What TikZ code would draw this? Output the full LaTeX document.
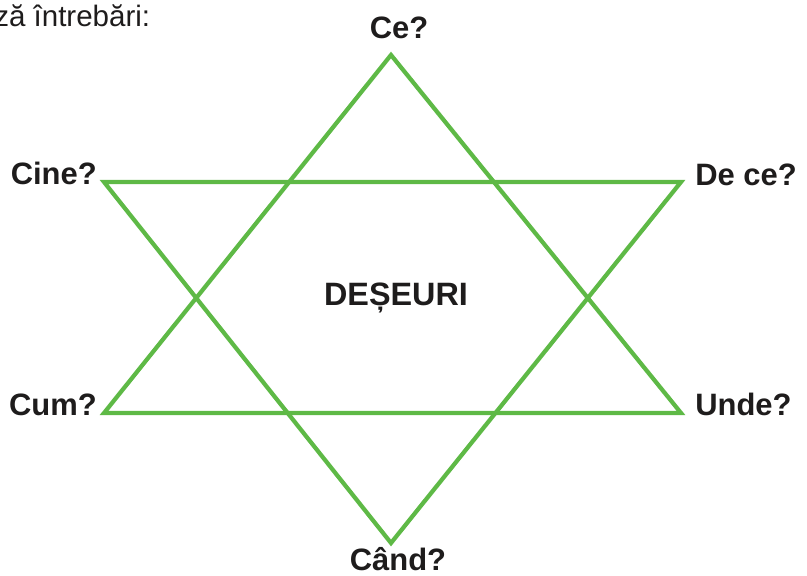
\documentclass[tikz,border=0pt]{standalone}
\usepackage{fontspec}
\setmainfont{Liberation Sans}
\usepackage{tikz}
\usetikzlibrary{positioning}
\definecolor{stargreen}{RGB}{94,185,70}
\definecolor{inkblack}{RGB}{30,28,28}

\begin{document}
\begin{tikzpicture}[
    x=0.025cm, y=-0.025cm,
    side/.style={draw=stargreen, line width=3pt, line join=miter},
    lbl/.style={font=\fontsize{22}{25}\selectfont\bfseries, text=inkblack, inner sep=0pt},
    topic/.style={font=\fontsize{23}{26}\selectfont\bfseries, text=inkblack, inner sep=0pt},
    intro/.style={font=\fontsize{21}{24}\selectfont, text=inkblack, inner sep=0pt},
]
\useasboundingbox (0,0) rectangle (807,576);
\clip (0,0) rectangle (807,576);

% ---- star corners ----
\coordinate (ce) at (391,55);
\coordinate (cum) at (104,413);
\coordinate (unde) at (681,413);
\coordinate (cine) at (104,182);
\coordinate (dece) at (681,182);
\coordinate (cand) at (391,543);

% ---- two triangles ----
\draw[side] (ce) -- (unde) -- (cum) -- cycle;
\draw[side] (cine) -- (dece) -- (cand) -- cycle;

% ---- questions ----
\node[lbl, anchor=base] (lce) at (399,39) {Ce?};
\node[lbl, anchor=base east] (lcine) at (97,185) {Cine?};
\node[lbl, anchor=base west] (ldece) at (695,186) {De ce?};
\node[lbl, anchor=base east] (lcum) at (97,415) {Cum?};
\node[lbl, anchor=base west] (lunde) at (695,415) {Unde?};
\node[lbl, anchor=base] (lcand) at (398,570) {Când?};

% ---- centre ----
\node[topic, anchor=base] (deseuri) at (396,306) {DEȘEURI};

% ---- cut-off intro line ----
\node[intro, anchor=base west] (intro) at (-6,27) {ză întrebări:};

\end{tikzpicture}
\end{document}
